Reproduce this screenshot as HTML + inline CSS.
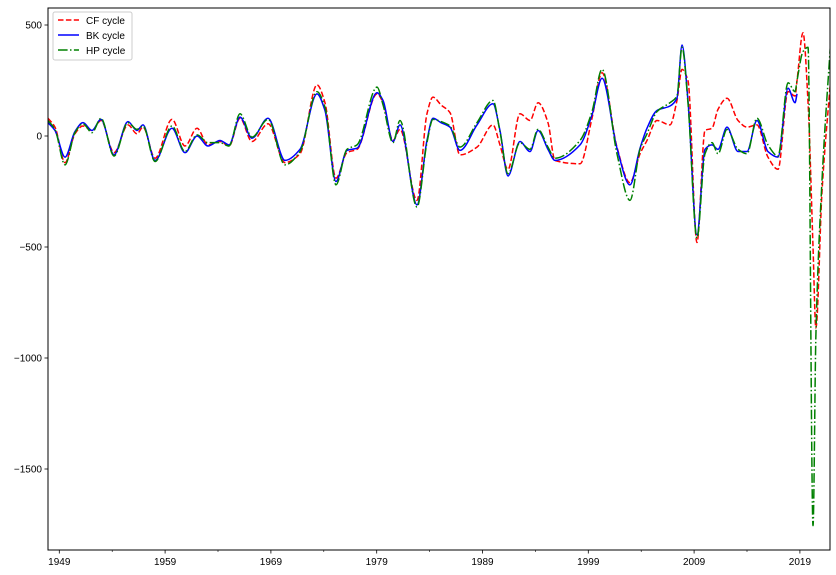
<!DOCTYPE html>
<html><head><meta charset="utf-8">
<style>
body{margin:0;background:#fff;}
svg{display:block;font-family:"Liberation Sans","DejaVu Sans",sans-serif;}
</style></head>
<body>
<svg id="chart" width="836" height="575" viewBox="0 0 836 575" xmlns="http://www.w3.org/2000/svg">
<rect x="0" y="0" width="836" height="575" fill="#fff"/>
<g id="series"></g>
<g id="axes"></g>
<g id="legend">
 <rect x="53" y="12" width="79" height="48" rx="2" fill="#fff" fill-opacity="0.85" stroke="#ccc" stroke-width="1"/>
 <g>
  <line x1="58" y1="20" x2="79" y2="20" stroke="#ff0000" stroke-width="1.5" stroke-dasharray="5.5,2.4"/>
  <text x="86" y="24" font-size="10" fill="#000">CF cycle</text></g>
 <g>
  <line x1="58" y1="35" x2="79" y2="35" stroke="#0000ff" stroke-width="1.5"/>
  <text x="86" y="39" font-size="10" fill="#000">BK cycle</text></g>
 <g>
  <line x1="58" y1="50" x2="79" y2="50" stroke="#008000" stroke-width="1.5" stroke-dasharray="9.6,2.4,1.5,2.4"/>
  <text x="86" y="54" font-size="10" fill="#000">HP cycle</text></g>
</g>
</svg>
<script>
const dates = [1947.93,1948.59,1949.54,1950.48,1951.24,1952.09,1952.94,1954.17,1955.49,1956.34,1956.91,1958.05,1959.65,1960.88,1962.02,1963.05,1964.19,1965.04,1966.08,1967.21,1968.73,1970.33,1971.75,1973.36,1974.11,1975.15,1976.19,1977.14,1979.03,1979.60,1980.54,1981.20,1982.81,1983.75,1984.32,1985.08,1985.93,1986.87,1988.48,1989.99,1990.65,1991.41,1992.54,1993.49,1994.25,1995.19,1995.85,1998.22,1999.35,2000.30,2001.71,2002.94,2003.89,2004.55,2005.49,2006.72,2007.38,2007.86,2008.42,2009.27,2010.03,2010.69,2011.26,2012.11,2013.15,2014.00,2014.94,2015.98,2016.93,2017.88,2018.54,2018.73,2019.29,2019.77,2020.24,2020.51,2021.09,2021.94];
const bkValues = [60,25,-95,20,60,25,75,-85,65,25,50,-110,35,-75,0,-45,-20,-40,85,-10,80,-110,-60,190,115,-205,-65,-55,195,160,-25,50,-310,-20,80,60,40,-65,50,145,25,-180,-25,-70,25,-60,-110,-40,95,260,-55,-220,-55,35,115,135,170,410,160,-445,-60,-40,-60,40,-70,-70,70,-70,-95,215,150,190,null,null,null,null,null,null];
const cfValues = [80,40,-120,10,45,25,70,-75,50,10,40,-100,75,-45,35,-40,-25,-45,80,-25,55,-120,-80,230,150,-190,-75,-60,190,150,-20,30,-290,100,175,140,105,-85,-50,50,-40,-150,100,70,150,60,-110,-125,80,285,-50,-210,-80,-20,70,50,160,300,250,-480,25,35,120,170,70,40,50,-95,-150,200,180,250,465,150,-500,-865,-250,275];
const hpValues = [70,30,-130,15,55,15,80,-90,60,30,45,-115,45,-70,5,-30,-30,-45,100,-5,75,-130,-70,200,130,-220,-60,-40,220,140,-30,70,-320,-30,75,65,45,-50,60,160,20,-170,-30,-60,30,-50,-100,-20,110,300,-80,-290,-60,10,110,150,180,400,150,-460,-80,-30,-80,30,-60,-80,80,-40,-90,240,200,250,380,400,-1755,-900,-200,450];
const yTicks = [500,0,-500,-1000,-1500];
const xTicks = [1949,1959,1969,1979,1989,1999,2009,2019];

const L=48,R=830,T=8,B=550;
function xs(yr){return 59.3+(yr-1949)*10.58;}
function ys(v){return 136-v*0.222;}
const NS='http://www.w3.org/2000/svg';
function mk(tag,attrs,parent){const e=document.createElementNS(NS,tag);for(const k in attrs)e.setAttribute(k,attrs[k]);parent.appendChild(e);return e;}

const clip=mk('clipPath',{id:'plotclip'},document.getElementById('chart'));
mk('rect',{x:L,y:T,width:R-L,height:B-T},clip);

// monotone cubic interpolation (no overshoot)
function pathFor(vals){
  const p=[];
  for(let i=0;i<dates.length;i++){if(vals[i]!==null)p.push([xs(dates[i]),ys(vals[i])]);}
  const n=p.length,dx=[],s=[],m=[];
  for(let i=0;i<n-1;i++){dx[i]=p[i+1][0]-p[i][0];s[i]=(p[i+1][1]-p[i][1])/dx[i];}
  m[0]=s[0];m[n-1]=s[n-2];
  for(let i=1;i<n-1;i++){
    if(s[i-1]*s[i]<=0)m[i]=0;
    else{const w1=2*dx[i]+dx[i-1],w2=dx[i]+2*dx[i-1];m[i]=(w1+w2)/(w1/s[i-1]+w2/s[i]);}
  }
  let d='M'+p[0][0].toFixed(2)+','+p[0][1].toFixed(2);
  for(let i=0;i<n-1;i++){
    const h=dx[i]/3;
    d+=' C'+(p[i][0]+h).toFixed(2)+','+(p[i][1]+m[i]*h).toFixed(2)+' '+(p[i+1][0]-h).toFixed(2)+','+(p[i+1][1]-m[i+1]*h).toFixed(2)+' '+p[i+1][0].toFixed(2)+','+p[i+1][1].toFixed(2);
  }
  return d;
}
const sg=document.getElementById('series');
sg.setAttribute('clip-path','url(#plotclip)');
const cf=mk('path',{d:pathFor(cfValues),fill:'none',stroke:'#ff0000','stroke-width':1.5,'stroke-dasharray':'5.5,2.4'},sg);


const bk=mk('path',{d:pathFor(bkValues),fill:'none',stroke:'#0000ff','stroke-width':1.5},sg);


const hp=mk('path',{d:pathFor(hpValues),fill:'none',stroke:'#008000','stroke-width':1.5,'stroke-dasharray':'9.6,2.4,1.5,2.4'},sg);



const ag=document.getElementById('axes');
const frame=mk('rect',{x:L,y:T,width:R-L,height:B-T,fill:'none',stroke:'#000','stroke-width':1},ag);


yTicks.forEach(v=>{
  const y=ys(v);
  mk('line',{x1:L-3.5,y1:y,x2:L,y2:y,stroke:'#000','stroke-width':0.8},ag);
  const t=mk('text',{x:L-6,y:y+3.5,'font-size':10,'text-anchor':'end',fill:'#000'},ag);
  t.textContent=(v<0?'\u2212'+(-v):String(v));
  
  
});
xTicks.forEach(yr=>{
  const x=xs(yr);
  mk('line',{x1:x,y1:B,x2:x,y2:B+3.5,stroke:'#000','stroke-width':0.8},ag);
  const t=mk('text',{x:x,y:B+15,'font-size':10,'text-anchor':'middle',fill:'#000'},ag);
  t.textContent=String(yr);
  
  
  const mx=xs(yr+5);
  if(mx<R) mk('line',{x1:mx,y1:B,x2:mx,y2:B+2,stroke:'#000','stroke-width':0.6},ag);
});
</script>
</body></html>
